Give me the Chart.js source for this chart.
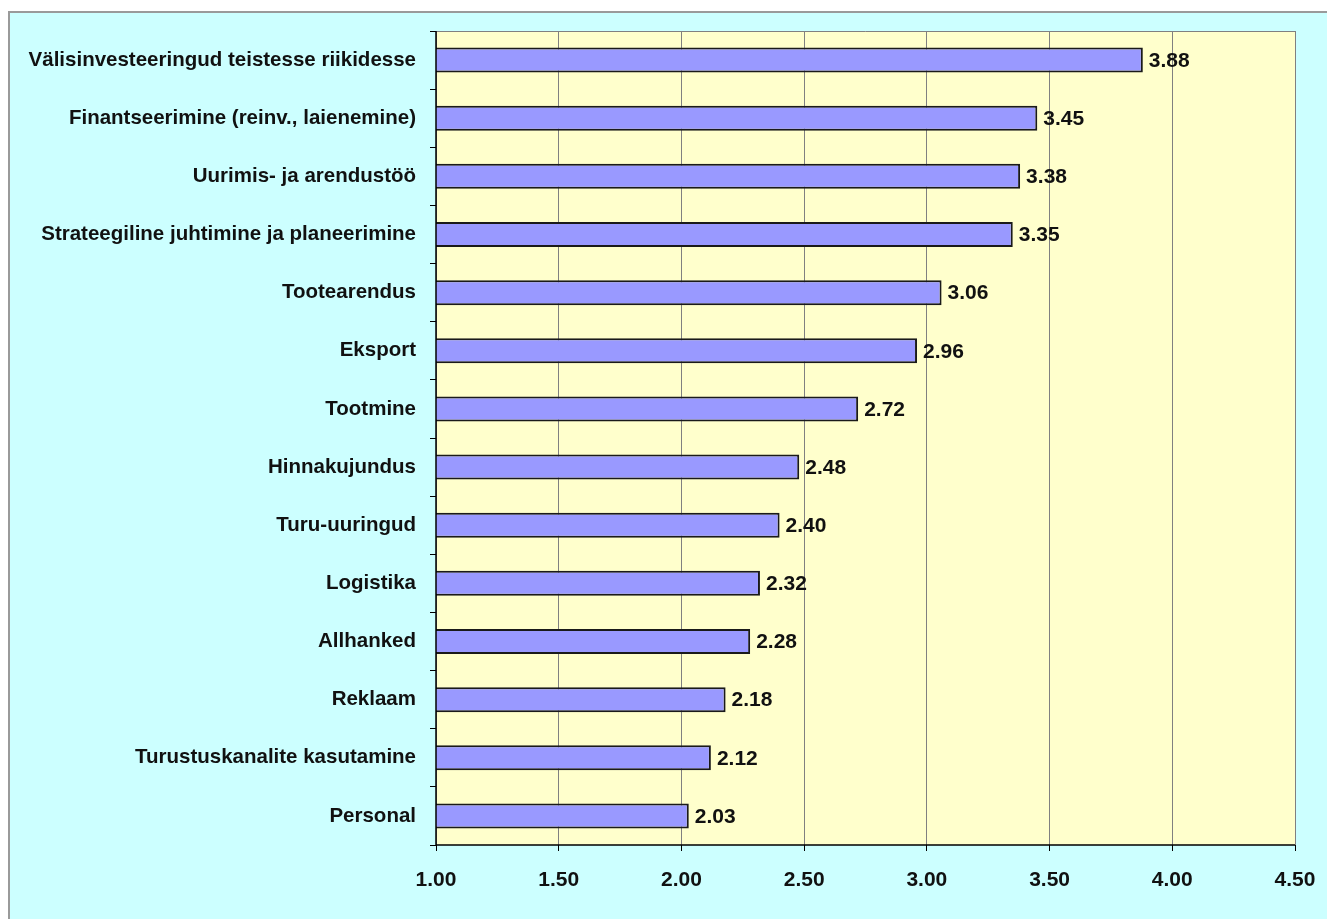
<!DOCTYPE html>
<html>
<head>
<meta charset="utf-8">
<script src="https://cdn.jsdelivr.net/npm/chart.js@4/dist/chart.umd.min.js"></script>
<style>
html,body{margin:0;padding:0;background:#ffffff;}
#wrap{position:absolute;left:0;top:0;width:1327px;height:919px;}
</style>
</head>
<body>
<div id="wrap"><canvas id="c" width="1327" height="919"></canvas></div>
<script>
const categories = [
  "Välisinvesteeringud teistesse riikidesse",
  "Finantseerimine (reinv., laienemine)",
  "Uurimis- ja arendustöö",
  "Strateegiline juhtimine ja planeerimine",
  "Tootearendus",
  "Eksport",
  "Tootmine",
  "Hinnakujundus",
  "Turu-uuringud",
  "Logistika",
  "Allhanked",
  "Reklaam",
  "Turustuskanalite kasutamine",
  "Personal"
];
const values = [3.88, 3.45, 3.38, 3.35, 3.06, 2.96, 2.72, 2.48, 2.40, 2.32, 2.28, 2.18, 2.12, 2.03];
const xMin = 1.0, xMax = 4.5, xStep = 0.5;

const FONT = "'Liberation Sans', Arial, sans-serif";

const bgPlugin = {
  id: 'bg',
  beforeDraw(chart) {
    const ctx = chart.ctx;
    const a = chart.chartArea;
    ctx.save();
    ctx.fillStyle = '#ffffff';
    ctx.fillRect(0, 0, chart.width, chart.height);
    ctx.fillStyle = '#CCFFFF';
    ctx.fillRect(8, 11, chart.width - 8, chart.height - 11);
    ctx.strokeStyle = '#9a9a9a';
    ctx.lineWidth = 2;
    ctx.beginPath();
    ctx.moveTo(9, chart.height);
    ctx.lineTo(9, 12);
    ctx.lineTo(chart.width, 12);
    ctx.stroke();
    ctx.fillStyle = '#FFFFCC';
    ctx.fillRect(a.left, a.top, a.right - a.left, a.bottom - a.top);
    ctx.restore();
  },
  afterDatasetsDraw(chart) {
    const ctx = chart.ctx;
    const a = chart.chartArea;
    ctx.save();
    ctx.strokeStyle = '#808080';
    ctx.lineWidth = 1;
    ctx.beginPath();
    ctx.moveTo(a.left, a.top + 0.5);
    ctx.lineTo(a.right + 0.5, a.top + 0.5);
    ctx.lineTo(a.right + 0.5, a.bottom);
    ctx.stroke();
    ctx.strokeStyle = '#000000';
    ctx.lineWidth = 1.5;
    ctx.beginPath();
    ctx.moveTo(a.left, a.top);
    ctx.lineTo(a.left, a.bottom);
    ctx.lineTo(a.right, a.bottom);
    ctx.stroke();
    // value labels
    const meta = chart.getDatasetMeta(0);
    ctx.fillStyle = '#111111';
    ctx.font = "bold 21px " + FONT;
    ctx.textAlign = 'left';
    ctx.textBaseline = 'middle';
    meta.data.forEach((bar, i) => {
      ctx.fillText(values[i].toFixed(2), bar.x + 6, bar.y + 1);
    });
    ctx.restore();
  }
};

new Chart(document.getElementById('c'), {
  type: 'bar',
  data: {
    labels: categories,
    datasets: [{
      data: values,
      backgroundColor: '#9999FF',
      borderColor: '#1a1a1a',
      borderWidth: 2,
      borderSkipped: false,
      barPercentage: 0.43,
      categoryPercentage: 1.0
    }]
  },
  options: {
    indexAxis: 'y',
    responsive: false,
    animation: false,
    devicePixelRatio: 1,
    layout: { padding: { left: 0, top: 31, right: 32, bottom: 0 } },
    plugins: { legend: { display: false }, tooltip: { enabled: false } },
    scales: {
      x: {
        type: 'linear',
        min: xMin, max: xMax,
        border: { display: false },
        grid: { color: '#808080', lineWidth: 1, tickColor: '#000000', tickLength: 6 },
        ticks: {
          stepSize: xStep,
          color: '#111111',
          padding: 17,
          font: { family: FONT, size: 21, weight: 'bold' },
          callback: v => Number(v).toFixed(2)
        },
        afterFit(s) { s.height = 74; s.paddingRight = 0; s.paddingLeft = 0; }
      },
      y: {
        border: { display: false },
        grid: { offset: true, drawOnChartArea: false, color: '#000000', tickLength: 6 },
        ticks: {
          color: '#111111',
          padding: 14,
          font: { family: FONT, size: 20.5, weight: 'bold' }
        },
        afterFit(s) { s.width = 436; }
      }
    }
  },
  plugins: [bgPlugin]
});
</script>
</body>
</html>
